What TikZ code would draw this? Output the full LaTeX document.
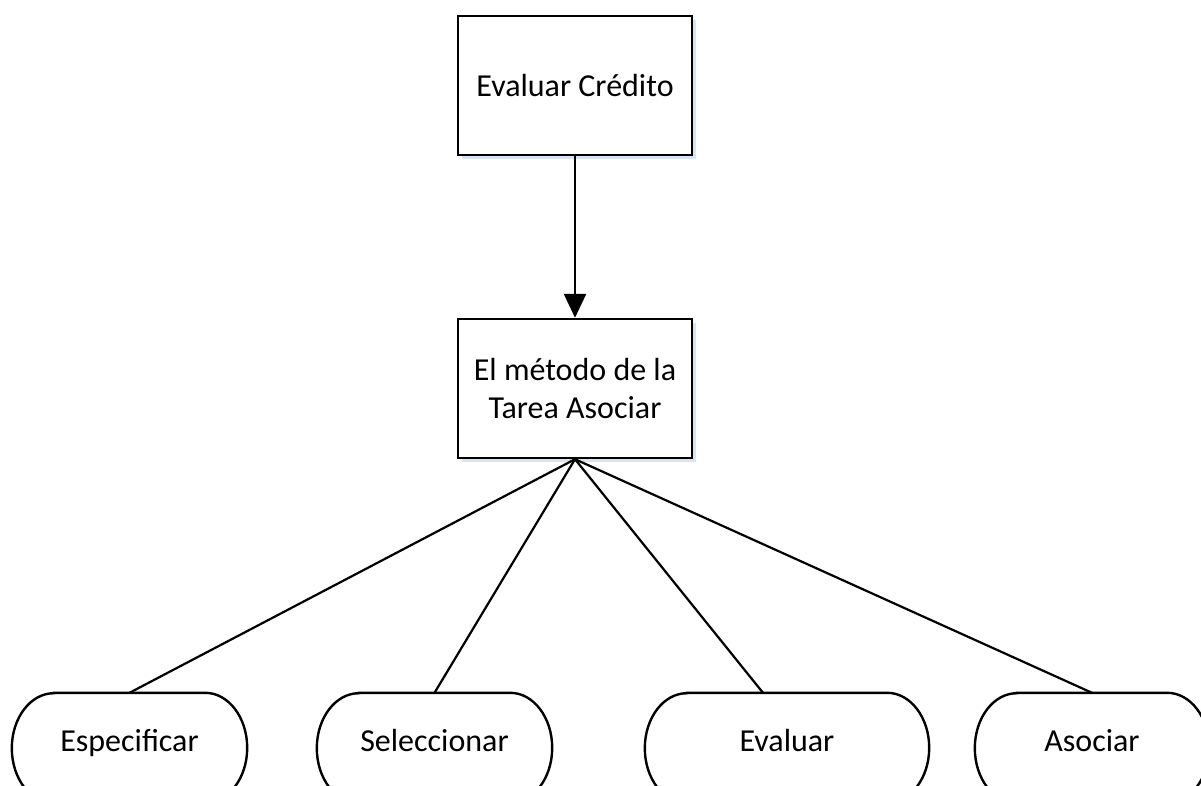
\documentclass[tikz,border=0pt]{standalone}
\usepackage{fontspec}
\setmainfont{Carlito}
\usetikzlibrary{arrows.meta,shadows}
\pgfdeclarelayer{background}
\pgfsetlayers{background,main}
\newcommand{\stadiumpath}[2]{%
  ([xshift=42pt]#1.north west) -- ([xshift=-42pt]#1.north east)
  arc[start angle=90,end angle=-90,x radius=42pt,y radius=55pt]
  -- ([xshift=42pt]#1.south west)
  arc[start angle=270,end angle=90,x radius=42pt,y radius=55pt] -- cycle}
\newcommand{\stadium}[1]{%
  \begin{pgfonlayer}{background}
  \fill[shadowcol,opacity=0.6,xshift=4pt,yshift=-4pt] \stadiumpath{#1}{};
  \draw[line width=2.4pt,fill=white] \stadiumpath{#1}{};
  \end{pgfonlayer}}
\definecolor{shadowcol}{RGB}{190,210,235}
\begin{document}
\begin{tikzpicture}[x=1pt,y=-1pt,
  shd/.style={drop shadow={shadow xshift=4pt,shadow yshift=-4pt,fill=shadowcol,opacity=0.6}},
  box/.style={draw=black,line width=2.4pt,fill=white,minimum width=234pt,minimum height=139pt,inner sep=0pt,align=center,font=\fontsize{32}{38}\selectfont,shd},
  term/.style={minimum height=110pt,inner sep=0pt,text height=22pt,text depth=16pt,font=\fontsize{32}{36}\selectfont},
  conn/.style={line width=2.2pt}]
\useasboundingbox (0,0) rectangle (1201,785);
\node[box] (top) at (575,85.5) {Evaluar Crédito};
\node[box] (mid) at (575,388.5) {El método de la\\Tarea Asociar};
\node[term,minimum width=235pt] (esp) at (129.5,748) {Especificar};
\node[term,minimum width=235pt] (sel) at (434.5,748) {Seleccionar};
\node[term,minimum width=284pt] (eva) at (787,748) {Evaluar};
\node[term,minimum width=234pt] (aso) at (1092,748) {Asociar};
\stadium{esp}
\stadium{sel}
\stadium{eva}
\stadium{aso}
\draw[line width=2.4pt,-{Triangle[length=24pt,width=22pt]}] (top.south) -- (mid.north);
\draw[conn] (mid.south) -- (esp.north);
\draw[conn] (mid.south) -- (sel.north);
\draw[conn] (mid.south) -- ([xshift=-24pt]eva.north);
\draw[conn] (mid.south) -- (aso.north);
\end{tikzpicture}
\end{document}
